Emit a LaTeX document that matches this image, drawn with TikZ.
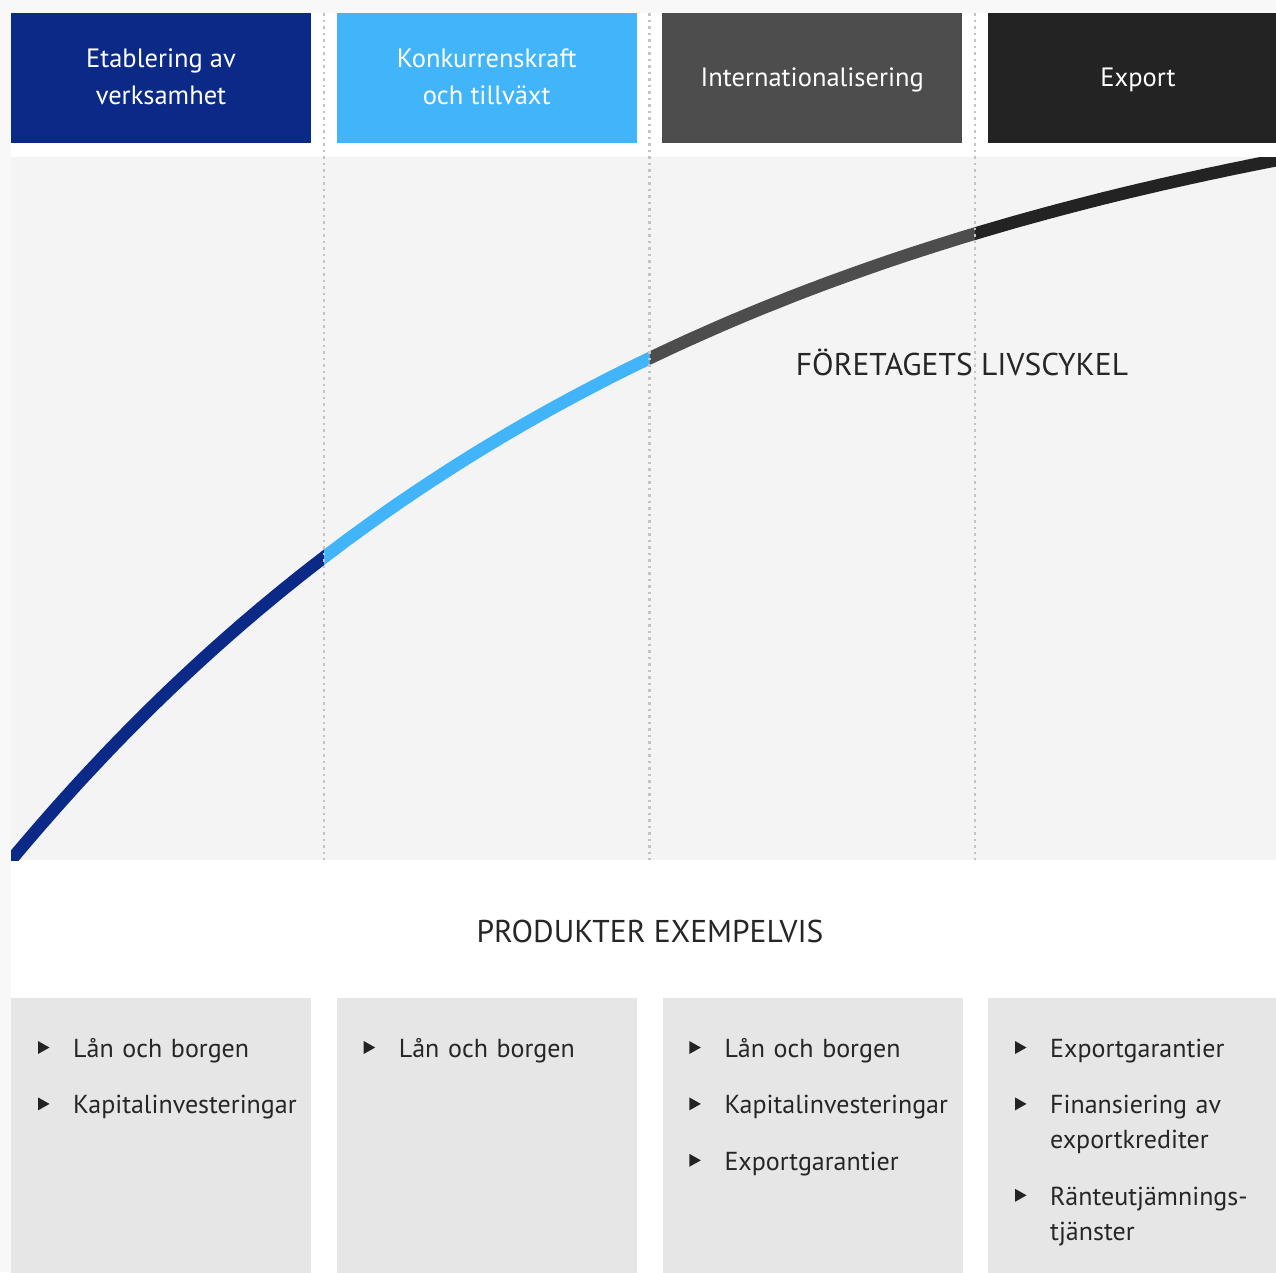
\documentclass[tikz,border=0pt]{standalone}
\usepackage{fontspec}
\setmainfont{PT Sans}
\usetikzlibrary{calc,positioning}
\definecolor{etablering}{HTML}{0B2A88}
\definecolor{konkurrens}{HTML}{42B4F9}
\definecolor{internat}{HTML}{4D4D4D}
\definecolor{export}{HTML}{232323}
\definecolor{kant}{HTML}{F8F8F8}
\definecolor{panel}{HTML}{F4F4F4}
\definecolor{ruta}{HTML}{E6E6E6}
\definecolor{brodtext}{HTML}{262626}
\definecolor{prick}{HTML}{C4C4C4}
\newcommand{\fasstrut}{\rule[-9pt]{0pt}{34pt}}
\tikzset{
  fas/.style={fill=#1, text=white, minimum width=300pt, minimum height=130pt,
    inner sep=0pt, align=center, font=\fontsize{26.5}{37}\selectfont},
  rubrik/.style={anchor=base, text=brodtext, font=\fontsize{31.5}{36}\selectfont},
  produktruta/.style={fill=ruta, anchor=north west, minimum width=300pt,
    minimum height=300pt, inner sep=0pt},
  produkt/.style={anchor=north west, inner sep=0pt, text width=240pt, align=left,
    text=brodtext, font=\fontsize{26}{35}\selectfont},
  pil/.style={fill=export},
  skiljelinje/.style={prick, line width=2.5pt, dash pattern=on 2.5pt off 4pt}
}
% #1 namn, #2 produkter, #3 ruta
\newcommand{\produkter}[3]{
  \foreach[count=\i] \t in {#2} {
    \ifnum\i=1
      \node[produkt] (#1-\i) at ($(#3.north west)+(62pt,-34.5pt)$) {\strut\t\strut};
    \else
      \pgfmathtruncatemacro\j{\i-1}
      \node[produkt, below=21pt of #1-\j] (#1-\i) {\strut\t\strut};
    \fi
    \fill[pil] ($(#1-\i.north west)+(-35pt,-8.5pt)$) -- ++(0pt,-13pt) -- ++(11.5pt,6.5pt) -- cycle;
  }
}

\begin{document}
\begin{tikzpicture}[x=1pt,y=1pt]
  \useasboundingbox (0,0) rectangle (1276,-1272);
  \clip (0,0) rectangle (1276,-1272);
  \fill[kant] (0,0) rectangle (1276,-1272);
  \fill[white] (11,-13) rectangle (1276,-1272);
  \fill[panel] (11,-157) rectangle (1276,-860);

  % faser
  \node[fas=etablering] (etablering) at (161,-78) {\fasstrut Etablering av\\verksamhet\fasstrut};
  \node[fas=konkurrens] (konkurrens) at (486.7,-78) {\fasstrut Konkurrenskraft\\och tillväxt\fasstrut};
  \node[fas=internat] (internat) at (812.3,-78) {\fasstrut Internationalisering};
  \node[fas=export] (export) at (1138,-78) {\fasstrut Export};

  % livscykeln
  \foreach \a/\b/\c in {11/324/etablering, 324/649.5/konkurrens, 649.5/975/internat, 975/1276/export} {
    \begin{scope}
      \clip (\a,-157) rectangle (\b,-860);
      \draw[\c, line width=12.5pt] plot[domain=\a-10:\b+10, samples=60, variable=\x]
        (\x, {-860+835*(1-exp(-(\x-11)/695))});
    \end{scope}
  }
  \foreach \x in {324, 649.5, 975}
    \draw[skiljelinje] (\x,-13) -- (\x,-860);

  \node[rubrik] (livscykel) at (962,-375) {FÖRETAGETS LIVSCYKEL};
  \node[rubrik] (exempel) at (650,-942) {PRODUKTER EXEMPELVIS};

  % produkter
  \node[produktruta] (ruta1) at (11,-998) {};
  \node[produktruta] (ruta2) at (336.7,-998) {};
  \node[produktruta] (ruta3) at (662.3,-998) {};
  \node[produktruta] (ruta4) at (988,-998) {};
  \produkter{etab}{Lån och borgen, Kapitalinvesteringar}{ruta1}
  \produkter{konk}{Lån och borgen}{ruta2}
  \produkter{inter}{Lån och borgen, Kapitalinvesteringar, Exportgarantier}{ruta3}
  \produkter{exp}{Exportgarantier, {Finansiering av\\exportkrediter}, {Ränteutjämnings-\\tjänster}}{ruta4}
\end{tikzpicture}
\end{document}
